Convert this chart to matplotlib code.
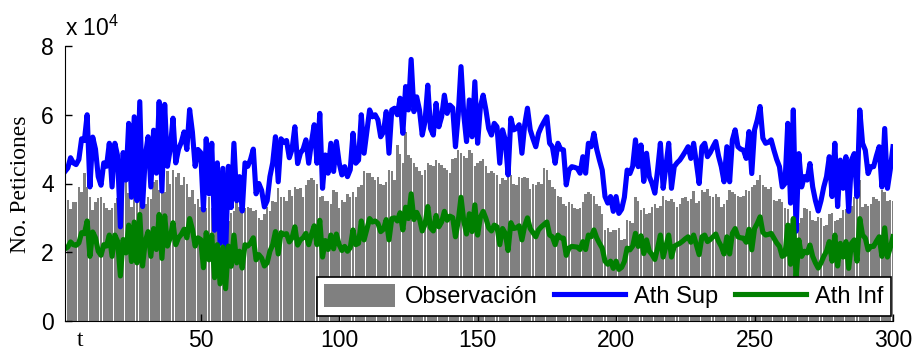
import numpy as np
import matplotlib
matplotlib.use('Agg')
import matplotlib.pyplot as plt

# values, in units of 1e4 peticiones, t = 1..300
observacion = [
    3.5, 3.52, 3.25, 3.45, 3.47, 3.9, 3.75, 4.3, 3.9, 3.6,
    3.23, 3.47, 3.57, 3.61, 3.42, 3.28, 3.23, 3.28, 3.42, 3.57,
    3.04, 3.9, 4.05, 3.71, 3.33, 3.71, 3.57, 3.71, 3.81, 3.4,
    3.6, 3.55, 4.05, 4.1, 3.8, 4.3, 3.75, 4.35, 4.0, 4.39,
    4.2, 4.3, 3.95, 4.2, 4.0, 3.62, 3.8, 3.4, 3.55, 3.33,
    3.5, 3.3, 3.6, 3.3, 3.35, 2.94, 3.1, 2.85, 3.0, 2.9,
    3.14, 3.2, 3.5, 3.33, 3.5, 3.3, 3.33, 3.3, 3.2, 3.23,
    3.0, 2.94, 3.1, 3.33, 3.2, 3.5, 3.45, 3.87, 3.6, 3.62,
    3.5, 3.8, 3.65, 3.9, 3.85, 3.87, 3.6, 3.95, 4.1, 4.15,
    4.1, 4.0, 3.6, 3.65, 3.5, 3.5, 3.4, 3.8, 3.75, 3.3,
    3.52, 3.45, 3.7, 3.6, 3.75, 3.6, 3.9, 3.95, 4.35, 4.3,
    4.3, 4.2, 4.1, 4.2, 4.0, 3.95, 4.05, 4.4, 4.35, 4.1,
    5.12, 4.85, 4.6, 5.5, 4.83, 4.75, 4.6, 4.49, 4.35, 4.25,
    4.4, 4.6, 4.55, 4.5, 4.68, 4.6, 4.55, 4.45, 4.4, 4.3,
    4.7, 4.75, 4.97, 4.9, 4.8, 4.75, 4.97, 4.9, 4.5, 4.6,
    4.65, 4.7, 4.5, 4.3, 4.35, 4.3, 4.25, 4.0, 4.15, 4.1,
    4.2, 4.25, 4.0, 3.95, 4.2, 4.15, 4.2, 4.15, 3.83, 4.0,
    3.95, 4.05, 4.0, 4.45, 4.4, 4.1, 3.9, 3.85, 3.65, 3.6,
    3.4, 3.35, 3.45, 3.4, 3.3, 3.25, 3.3, 3.45, 3.7, 3.75,
    3.7, 3.65, 3.4, 3.35, 3.1, 2.65, 2.7, 2.6, 2.65, 2.65,
    2.7, 2.36, 2.4, 2.94, 2.9, 2.85, 3.62, 3.5, 3.23, 3.3,
    3.1, 3.15, 3.33, 3.4, 3.3, 3.35, 3.65, 3.52, 3.5, 3.55,
    3.45, 3.33, 3.4, 3.57, 3.6, 3.48, 3.55, 3.78, 3.43, 3.5,
    3.8, 3.75, 3.85, 3.65, 3.6, 3.7, 3.6, 3.33, 3.4, 3.52,
    3.81, 3.75, 3.7, 3.65, 3.6, 3.65, 3.81, 3.78, 3.9, 3.95,
    4.1, 4.25, 3.95, 3.9, 3.85, 3.9, 3.52, 3.5, 3.55, 3.45,
    3.3, 3.25, 2.85, 2.9, 2.8, 2.85, 3.0, 3.28, 3.25, 3.2,
    2.94, 2.9, 3.04, 3.0, 2.75, 2.8, 3.1, 3.15, 2.9, 2.95,
    3.0, 3.23, 3.25, 3.4, 3.35, 3.62, 3.6, 4.1, 3.33, 3.4,
    3.35, 3.4, 3.6, 3.55, 3.5, 3.81, 3.75, 3.5, 3.52, 3.5,
]

ath_sup = [
    4.35, 4.45, 4.75, 4.6, 4.55, 4.7, 5.3, 5.25, 6.0, 3.9,
    5.35, 5.0, 4.2, 3.95, 4.6, 4.5, 5.17, 3.9, 5.17, 4.8,
    2.74, 4.9, 4.1, 5.75, 3.6, 5.94, 3.5, 6.38, 3.33, 4.8,
    5.36, 3.9, 5.55, 4.3, 6.38, 3.78, 6.3, 4.5, 5.0, 5.9,
    4.6, 5.0, 5.2, 5.5, 4.99, 6.15, 5.5, 4.5, 4.99, 4.9,
    3.23, 5.3, 3.7, 5.17, 2.64, 4.6, 2.26, 4.44, 1.97, 4.5,
    3.3, 5.17, 3.5, 4.2, 3.2, 4.6, 4.5, 4.7, 5.0, 3.7,
    4.0, 3.8, 3.32, 3.5, 4.2, 4.6, 5.36, 4.05, 5.3, 5.2,
    5.25, 4.75, 5.0, 5.65, 4.58, 4.88, 5.0, 5.27, 4.59, 5.2,
    5.71, 4.59, 6.04, 3.86, 4.83, 4.3, 5.17, 4.35, 5.22, 4.6,
    4.25, 4.49, 4.2, 4.4, 5.46, 4.59, 4.68, 6.0, 4.88, 5.5,
    6.14, 5.94, 6.0, 5.85, 5.36, 5.5, 6.09, 4.88, 6.14, 6.19,
    6.0, 6.48, 5.46, 6.82, 6.14, 7.61, 6.09, 6.52, 6.14, 5.41,
    5.8, 6.86, 5.6, 5.41, 6.33, 5.65, 5.94, 6.57, 6.04, 6.28,
    6.2, 5.07, 6.0, 7.4, 6.0, 5.22, 6.43, 5.36, 6.96, 5.17,
    6.23, 6.57, 6.14, 5.6, 5.41, 5.75, 5.65, 4.59, 5.56, 5.27,
    4.25, 5.9, 5.56, 5.6, 5.71, 4.88, 5.71, 6.19, 5.56, 5.3,
    5.07, 5.46, 5.65, 5.8, 5.94, 5.17, 5.07, 4.59, 5.17, 5.0,
    4.98, 3.96, 4.39, 4.49, 4.47, 4.44, 4.3, 4.78, 4.3, 5.17,
    5.07, 5.46, 5.0, 4.68, 4.39, 3.62, 3.43, 3.62, 3.19, 3.62,
    3.13, 3.25, 3.6, 4.39, 4.29, 4.5, 5.27, 4.49, 5.12, 4.06,
    4.88, 4.2, 4.0, 3.72, 4.39, 5.17, 3.86, 4.5, 5.17, 3.86,
    4.49, 4.6, 4.68, 4.8, 4.93, 5.07, 4.73, 5.17, 4.6, 4.0,
    5.07, 5.17, 4.78, 4.9, 5.07, 5.22, 4.8, 4.49, 4.05, 5.07,
    4.05, 5.27, 5.56, 5.07, 5.0, 4.97, 4.73, 5.51, 4.29, 5.56,
    5.85, 6.24, 5.32, 5.17, 5.2, 5.27, 4.97, 4.7, 4.49, 3.9,
    4.0, 5.75, 3.43, 6.14, 2.61, 4.87, 3.9, 4.2, 4.1, 4.58,
    3.9, 3.5, 3.2, 3.5, 3.9, 4.2, 4.78, 3.62, 5.17, 3.33,
    4.68, 3.86, 4.78, 3.19, 4.68, 4.87, 3.62, 6.14, 5.17, 4.97,
    4.29, 4.49, 4.49, 4.8, 5.07, 3.9, 5.6, 3.86, 4.4, 5.07,
]

ath_inf = [
    2.10, 2.15, 2.30, 2.22, 2.20, 2.27, 2.57, 2.54, 2.91, 1.88,
    2.59, 2.42, 2.03, 1.91, 2.22, 2.18, 2.50, 1.88, 2.50, 2.32,
    1.31, 2.37, 1.98, 2.79, 1.73, 2.88, 1.69, 3.10, 1.60, 2.32,
    2.60, 1.88, 2.69, 2.08, 3.10, 1.82, 3.06, 2.18, 2.42, 2.86,
    2.22, 2.42, 2.52, 2.67, 2.42, 2.98, 2.67, 2.18, 2.42, 2.37,
    1.55, 2.57, 1.78, 2.50, 1.26, 2.22, 1.08, 2.15, 0.94, 2.18,
    1.59, 2.50, 1.69, 2.03, 1.54, 2.22, 2.18, 2.27, 2.42, 1.78,
    1.93, 1.83, 1.60, 1.69, 2.03, 2.22, 2.60, 1.95, 2.57, 2.52,
    2.54, 2.30, 2.42, 2.74, 2.21, 2.36, 2.42, 2.55, 2.22, 2.52,
    2.77, 2.22, 2.93, 1.86, 2.34, 2.08, 2.50, 2.10, 2.53, 2.22,
    2.05, 2.17, 2.03, 2.13, 2.65, 2.22, 2.26, 2.91, 2.36, 2.67,
    2.98, 2.88, 2.91, 2.84, 2.60, 2.67, 2.95, 2.36, 2.98, 3.00,
    2.91, 3.15, 2.65, 3.31, 2.98, 3.70, 2.95, 3.16, 2.98, 2.62,
    2.81, 3.33, 2.71, 2.62, 3.07, 2.74, 2.88, 3.19, 2.93, 3.05,
    3.01, 2.45, 2.91, 3.60, 2.91, 2.53, 3.12, 2.60, 3.38, 2.50,
    3.02, 3.19, 2.98, 2.71, 2.62, 2.79, 2.74, 2.22, 2.69, 2.55,
    2.05, 2.86, 2.69, 2.71, 2.77, 2.36, 2.77, 3.00, 2.69, 2.57,
    2.45, 2.65, 2.74, 2.81, 2.88, 2.50, 2.45, 2.22, 2.50, 2.42,
    2.41, 1.91, 2.12, 2.17, 2.16, 2.15, 2.08, 2.31, 2.08, 2.50,
    2.45, 2.65, 2.42, 2.26, 2.12, 1.74, 1.65, 1.74, 1.53, 1.74,
    1.50, 1.56, 1.73, 2.12, 2.07, 2.18, 2.55, 2.17, 2.48, 1.96,
    2.36, 2.03, 1.93, 1.79, 2.12, 2.50, 1.86, 2.18, 2.50, 1.86,
    2.17, 2.22, 2.26, 2.32, 2.39, 2.45, 2.29, 2.50, 2.22, 1.93,
    2.45, 2.50, 2.31, 2.37, 2.45, 2.53, 2.32, 2.17, 1.95, 2.45,
    1.95, 2.55, 2.69, 2.45, 2.42, 2.41, 2.29, 2.67, 2.07, 2.69,
    2.84, 3.03, 2.58, 2.50, 2.52, 2.55, 2.41, 2.27, 2.17, 1.88,
    1.93, 2.79, 1.65, 2.98, 1.25, 2.36, 1.88, 2.03, 1.98, 2.21,
    1.88, 1.69, 1.54, 1.69, 1.88, 2.03, 2.31, 1.74, 2.50, 1.60,
    2.26, 1.86, 2.31, 1.53, 2.26, 2.36, 1.74, 2.98, 2.50, 2.41,
    2.07, 2.17, 2.17, 2.32, 2.45, 1.88, 2.71, 1.86, 2.13, 2.45,
]

x_ticks = [50, 100, 150, 200, 250, 300]
y_ticks = [0, 2, 4, 6, 8]

t = np.arange(1, len(observacion) + 1)
scale = 1e4

plt.rcParams['font.family'] = ['Liberation Sans', 'DejaVu Sans']
plt.rcParams['mathtext.default'] = 'regular'

fig = plt.figure(figsize=(9.17, 3.53), dpi=100)
ax = fig.add_axes([65 / 917, 32 / 353, 828 / 917, 275 / 353])

bars = ax.bar(t, np.array(observacion) * scale, width=0.88, color='#808080',
              linewidth=0, label='Observación')
sup, = ax.plot(t, np.array(ath_sup) * scale, color='#0000ff', lw=3.7,
               label='Ath Sup')
inf, = ax.plot(t, np.array(ath_inf) * scale, color='#008000', lw=3.7,
               label='Ath Inf')

ax.set_xlim(1, 300)
ax.set_ylim(0, 8 * scale)
ax.set_xticks(x_ticks)
ax.set_yticks([v * scale for v in y_ticks])
ax.set_yticklabels([str(v) for v in y_ticks])
ax.tick_params(direction='in', length=5, labelsize=16.5, width=1)
ax.tick_params(axis='x', pad=6)
ax.tick_params(axis='y', pad=8)
ax.spines['top'].set_visible(False)
ax.spines['right'].set_visible(False)

fig.text(65 / 917, 1 - 36 / 353, 'x 10$^{4}$', fontsize=16.5, va='baseline')
fig.text(21 / 917, 1 - 184 / 353, 'No. Peticiones', rotation=90,
         family='Liberation Serif', fontsize=17, ha='center', va='center')
fig.text(80 / 917, 1 - 346 / 353, 't', family='Liberation Serif',
         fontsize=17, ha='center', va='baseline')

leg = ax.legend(handles=[bars, sup, inf], loc='lower right',
                bbox_to_anchor=(0.997, 0.02), ncol=3,
                fontsize=17, frameon=True, fancybox=False, framealpha=1,
                edgecolor='black', handlelength=3.0, handleheight=1.1,
                handletextpad=0.4, columnspacing=0.7, borderpad=0.3,
                borderaxespad=0)
leg.get_frame().set_linewidth(1.2)

fig.savefig('out.png', dpi=100)
